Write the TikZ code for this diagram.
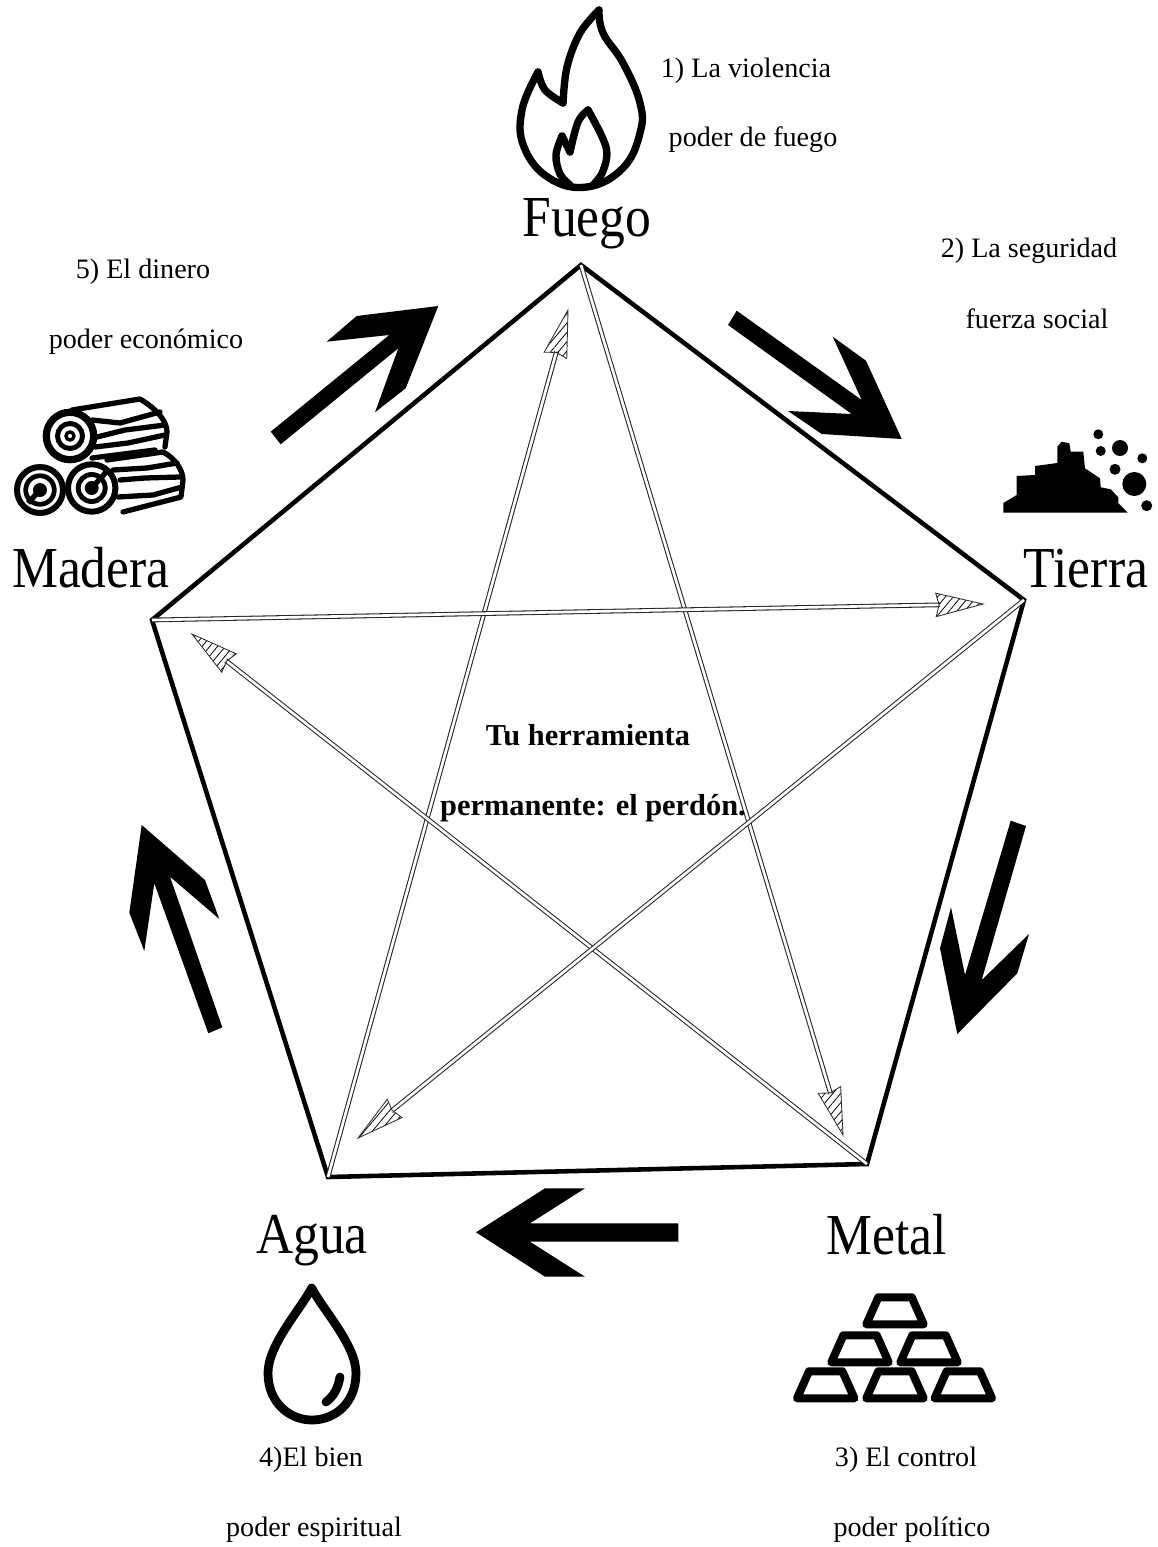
\documentclass[tikz,border=0pt]{standalone}
\usepackage{fontspec}
\setmainfont{Liberation Serif}
\newfontfamily\elemfont[FakeStretch=0.89]{Liberation Serif}
\usetikzlibrary{calc,patterns.meta}
\tikzset{
  elem/.style={anchor=base,inner sep=0pt,font=\elemfont\fontsize{33}{33}\selectfont},
  note/.style={anchor=base,inner sep=0pt,font=\fontsize{16}{16}\selectfont},
  tool/.style={anchor=base,inner sep=0pt,font=\bfseries\fontsize{17.3}{17.3}\selectfont},
  penta/.style={line width=2.6pt,line join=miter},
  starline/.style={draw=black!85,line width=.6pt,double=white,double distance=1.5pt},
  starhead/.style={draw=black!80,line width=.5pt,pattern={Lines[angle=50,distance=3.4pt,line width=.45pt]}},
  icon/.style={line width=4.2pt,line cap=round,line join=round},
  logline/.style={line width=3pt,line cap=round,line join=round},
}
\begin{document}
\begin{tikzpicture}[x=0.02cm,y=-0.02cm]
\useasboundingbox (0,0) rectangle (1158,1547);

\coordinate (fu) at (581,265);
\coordinate (ti) at (1024,600);
\coordinate (me) at (867,1164);
\coordinate (ag) at (328,1177);
\coordinate (ma) at (152,620);
\draw[penta] (fu) -- (ti) -- (me) -- (ag) -- (ma) -- cycle;

% tips of the star arrows
\coordinate (hfu) at (568,310);
\coordinate (hme) at (843,1135);
\coordinate (hma) at (192,634);
\coordinate (hti) at (983,604);
\coordinate (hag) at (358,1138);
\foreach \a/\b in {ag/hfu,fu/hme,me/hma,ma/hti,ti/hag}
  {\draw[starline] (\a) -- ($(\b)!.86cm!(\a)$);
   \draw[starhead] (\b) -- ($(\b)!.97cm!14:(\a)$) -- ($(\b)!.88cm!(\a)$)
     -- ($(\b)!.97cm!-14:(\a)$) -- cycle;}

% big arrows
\fill (736.7,310.7) -- (861.7,400) -- (832.7,336.7) -- (866,360.7) -- (901.7,439)
  -- (821.7,434) -- (788,411) -- (851.7,414) -- (728,325) -- cycle;
\fill (1010.7,820.7) -- (1026,826) -- (981.7,980) -- (1029,934) -- (1017.3,973.3)
  -- (957.3,1034) -- (940,948.3) -- (951,907.3) -- (965,975) -- cycle;
\fill (476,1232.3) -- (545,1188.3) -- (585,1188.3) -- (530,1223.3) -- (678.3,1223.3)
  -- (678.3,1241.7) -- (530,1241.7) -- (585,1276.7) -- (545,1276.7) -- cycle;
\fill (141.7,825) -- (205,880) -- (219.3,919) -- (170,876.7) -- (222.3,1027.3)
  -- (208.3,1033.3) -- (154.3,883.3) -- (144.3,951) -- (129.3,912.7) -- cycle;
\fill (438.3,306) -- (356.7,316) -- (326.7,341.7) -- (389.3,335) -- (270.7,431.7)
  -- (280.7,444.3) -- (398.3,348.3) -- (375,412.3) -- (405.7,388.3) -- cycle;

% labels
\node[elem] at (587,237) (lfuego) {Fuego};
\node[elem] at (1086,587) (ltierra) {Tierra};
\node[elem] at (887,1254) (lmetal) {Metal};
\node[elem] at (312,1253) (lagua) {Agua};
\node[elem] at (91,587) (lmadera) {Madera};

\node[note] at (746,78) (nfa) {1) La violencia};
\node[note] at (753,147) (nfb) {poder de fuego};
\node[note] at (1029,258) (nta) {2) La seguridad};
\node[note] at (1037,328) (ntb) {fuerza social};
\node[note] at (906,1466) (nma) {3) El control};
\node[note] at (912,1536) (nmb) {poder político};
\node[note] at (311,1466) (naa) {4)El bien};
\node[note] at (314,1536) (nab) {poder espiritual};
\node[note] at (143,278) (nda) {5) El dinero};
\node[note] at (146,348) (ndb) {poder económico};

\node[tool] at (588,745) (ttop) {Tu herramienta};
\node[tool] at (593,815) (tbot) {permanente: el perdón.};

% fire
\draw[icon] plot[smooth,tension=.7] coordinates {(599,10) (603,33) (623,63) (640,103) (640,133) (623,168) (587,187) (549,178) (524,147) (522,110) (538,72)};
\draw[icon] plot[smooth,tension=.6] coordinates {(538,72) (545,90) (563,103)};
\draw[icon] plot[smooth,tension=.6] coordinates {(563,103) (567,67) (580,33) (599,10)};
\draw[icon] plot[smooth,tension=.6] coordinates {(588,110) (606,147) (603,171) (593,185)};
\draw[icon] plot[smooth,tension=.6] coordinates {(588,110) (578,122) (570,152)};
\draw[icon] plot[smooth,tension=.6] coordinates {(570,152) (562,136)};
\draw[icon] plot[smooth,tension=.6] coordinates {(562,136) (556,155) (560,174) (570,185)};

% earth
\fill (1003.3,512.7) -- (1003.3,503) -- (1016.7,495) -- (1016.7,476) -- (1035,475)
  -- (1035,466) -- (1057.3,463) -- (1057.3,446.7) -- (1061.7,441.7) -- (1069.3,443.3)
  -- (1070.7,451.7) -- (1083.3,451.7) -- (1085,468.3) -- (1100,478.3) -- (1100.7,487.3)
  -- (1110.7,489.3) -- (1118.3,497.3) -- (1118.3,503.3) -- (1127.7,512.7) -- cycle;
\foreach \x/\y/\r in {1098.3/434.3/5,1100.7/451/5,1120/448/8,1142.3/458.3/5,1115/469.3/5.5,1134.3/484/12,1146.7/505.7/5.5}
  {\fill (\x,\y) circle [radius=\r];}

% metal
\foreach \x/\y in {895/0,860/38,929/38,825.7/74,895/74,963.3/74}
  {\draw[line width=4.6pt,line join=round] (\x-16.7,1297.3+\y) -- (\x+16.7,1297.3+\y)
     -- (\x+28.7,1324.3+\y) -- (\x-28.7,1324.3+\y) -- cycle;}

% water
\draw[line width=5pt,line join=round] (311.7,1288) .. controls (300,1310) and (268,1345) .. (268,1373)
  .. controls (268,1403) and (290,1420) .. (311.7,1420)
  .. controls (335,1420) and (356,1403) .. (356,1373)
  .. controls (356,1345) and (323,1310) .. cycle;
\draw[line width=5pt,line cap=round] (340,1377) .. controls (338,1388) and (334,1396) .. (326,1402);

% wood
\draw[logline] (72,410) -- (140,399) .. controls (155,408) and (167,420) .. (167,432) -- (165,447);
\draw[logline] (107,460) -- (163,452) .. controls (175,458) and (183,470) .. (183,480) -- (181,497) -- (123,512);
\foreach \l in {{(92,420) (120,423) (160,412)},{(97,437) (125,430) (165,425)},{(95,447) (128,443) (165,435)},{(92,458) (155,450)},
  {(113,470) (147,468) (177,463)},{(120,480) (145,478) (180,477)},{(118,497) (153,495) (182,487)}}
  {\draw[logline] plot coordinates \l;}
\draw[line width=4.1pt,fill=white] (70,436) circle [radius=23.7];
\draw[line width=2.8pt] (70,436) circle [radius=12.5];
\draw[line width=1.9pt] (70,436) circle [radius=4];
\draw[line width=3.4pt,fill=white] (40,490) circle [radius=23];
\draw[line width=2.7pt] (40,490) circle [radius=14.3];
\fill (40,490) circle [radius=7];
\draw[line width=3pt] (40,490) -- (28,503);
\draw[line width=3.4pt,fill=white] (91.7,488) circle [radius=23.7];
\draw[line width=2.8pt] (91.7,488) circle [radius=13.5];
\fill (91.7,488) circle [radius=7];
\draw[line width=3pt] (91.7,488) -- (108,470);
\end{tikzpicture}
\end{document}
